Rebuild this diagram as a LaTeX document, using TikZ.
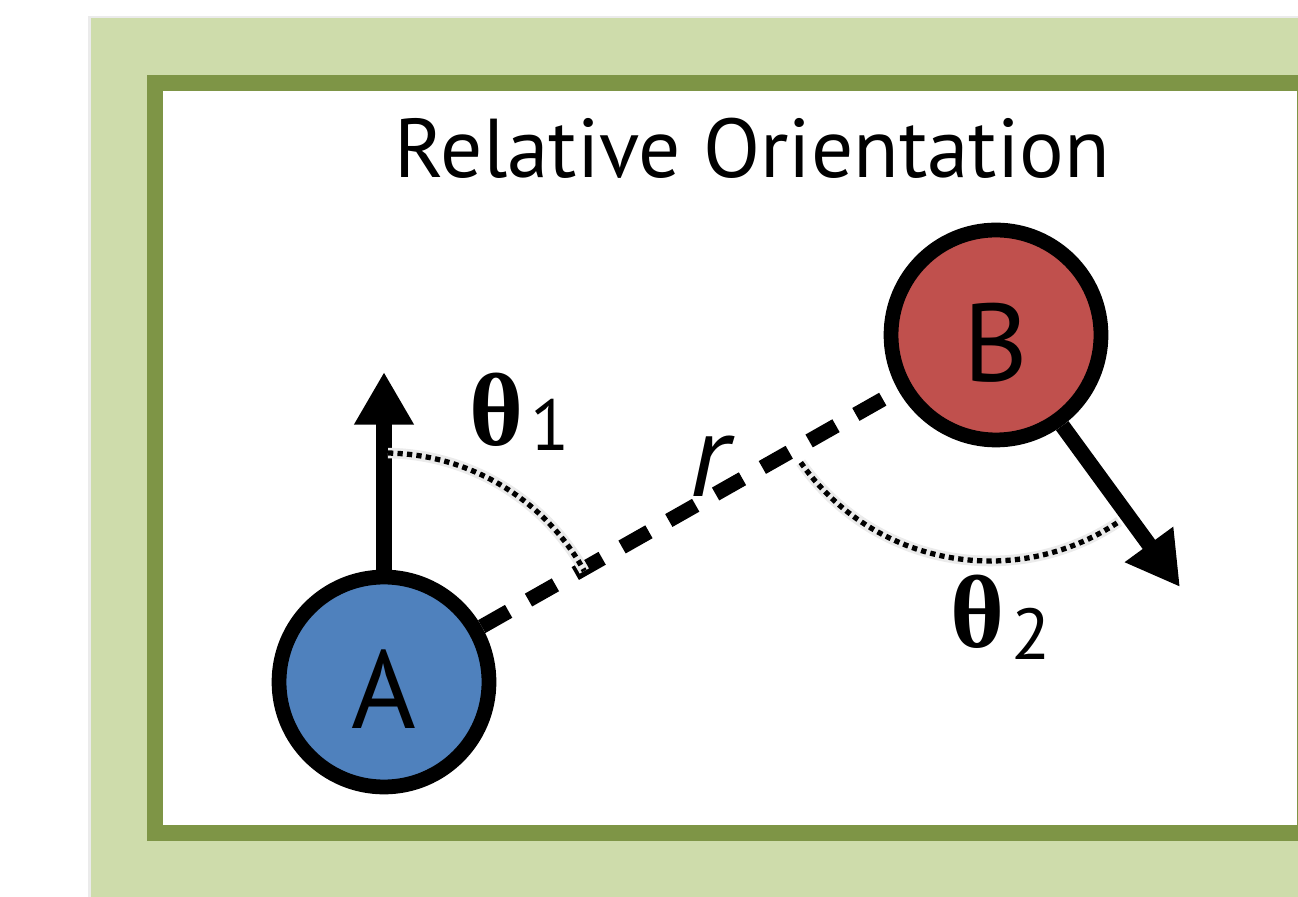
\documentclass[tikz,border=0pt]{standalone}
\usepackage{fontspec}
\setmainfont{PT Sans}
\newfontfamily\thetafont{Liberation Serif}
\usetikzlibrary{arrows.meta,calc,positioning}
\definecolor{verdechiaro}{HTML}{CEDCAB}
\definecolor{verdescuro}{HTML}{7E9546}
\definecolor{bluA}{HTML}{4F81BD}
\definecolor{rossoB}{HTML}{C0504D}

\begin{document}
\begin{tikzpicture}[x=0.02cm,y=0.02cm,
  corpo/.style={circle,draw=black,line width=8.4pt,minimum size=4.2cm,inner sep=0pt,
    text height=1.88cm,text depth=0pt,font=\fontsize{63}{63}\selectfont},
  freccia/.style={line width=8.8pt,-{Triangle[width=32pt,length=30pt]}},
  distanza/.style={line width=8.4pt,dash pattern=on 17.6pt off 13pt},
  angolo/.style={line width=3pt,dash pattern=on 3pt off 2.4pt,
    preaction={draw=black!8,line width=6pt,solid}},
  etichetta/.style={inner sep=0pt,anchor=base west}]
\useasboundingbox (0,0) rectangle (1298,896);
\clip (0,0) rectangle (1298,896);
% sfondo e cornice
\fill[black!8] (88,-20) rectangle (1320,880);
\fill[verdechiaro] (91,-20) rectangle (1320,878);
\draw[verdescuro,line width=0.32cm,fill=white] (154.5,813) rectangle (1304.5,63);
\node[font=\fontsize{47.5}{47.5}\selectfont,anchor=base] (titolo) at (752.5,718) {Relative Orientation};
% corpi A e B
\node[corpo,fill=bluA] (A) at (384,214) {A};
\node[corpo,fill=rossoB] (B) at (996,561) {B};
\coordinate (puntaA) at (384,524);
\coordinate (puntaB) at (1180,309);
\draw[freccia] (A) -- (puntaA);
\draw[freccia] (B) -- (puntaB);
\draw[distanza] (A) -- (B);
% angoli
\draw[angolo] ($(A)+(89:229)$) arc[start angle=89,end angle=29,radius=229];
\draw[angolo] ($(B)+(-6,5)+(215:231)$) arc[start angle=215,end angle=304,radius=231];
\node[etichetta] (theta1) at (469,450) {{\fontsize{59}{59}\thetafont\bfseries θ}\kern0.14cm\raisebox{-0.1cm}{\fontsize{41}{41}\selectfont 1}};
\node[etichetta] (theta2) at (950,248) {{\fontsize{59}{59}\thetafont\bfseries θ}\kern0.14cm\raisebox{-0.24cm}{\fontsize{41}{41}\selectfont 2}};
\node[etichetta,font=\fontsize{68}{68}\selectfont\itshape] (r) at (689,399) {r};
\end{tikzpicture}
\end{document}
